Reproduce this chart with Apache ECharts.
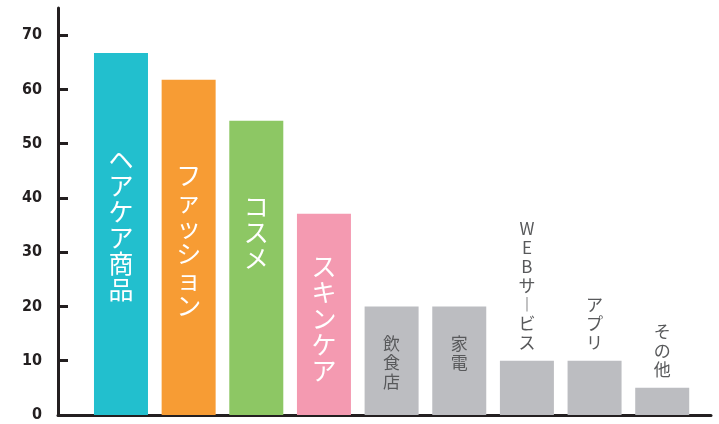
<!DOCTYPE html>
<html><head><meta charset="utf-8">
<script src="https://cdn.jsdelivr.net/npm/echarts@6/dist/echarts.min.js"></script>
<style>html,body{margin:0;padding:0;background:#fff}#c{width:719px;height:424px}</style>
</head><body><div id="c"></div>
<script>
const categories = ['ヘアケア商品','ファッション','コスメ','スキンケア','飲食店','家電','WEBサービス','アプリ','その他'];
const values = [66.7, 61.8, 54.2, 37.1, 20, 20, 10, 10, 5];
const yTicks = [0,10,20,30,40,50,60,70];

const barColors = ['#22bfce','#f79c34','#8dc764','#f49ab1','#bcbdc1','#bcbdc1','#bcbdc1','#bcbdc1','#bcbdc1'];
const labelMode = ['in','in','in','in','inG','inG','top','top','top'];
const labelShift = [-10,-7,-35,4,2,-8,0,0,0];

function vert(s){ return Array.from(s.replace(/ー/g,'︱')).join('\n'); }

const data = values.map((v,i)=>{
  const m = labelMode[i];
  const big = m==='in';
  return {
    value:[i,v],
    itemStyle:{color:barColors[i]},
    label:{
      show:true,
      formatter: vert(categories[i]),
      position: m==='top' ? 'top' : 'inside',
      distance: 9,
      offset:[0,labelShift[i]],
      color: big ? '#ffffff' : '#58595b',
      fontSize: big ? 25 : 17,
      lineHeight: big ? 26 : 19,
      fontFamily: 'Noto Sans CJK JP',
      fontWeight: 'normal'
    }
  };
});

const chart = echarts.init(document.getElementById('c'));
chart.setOption({
  animation:false,
  grid:{left:58,right:8,top:8,bottom:9,containLabel:false},
  xAxis:{
    type:'value', min:-0.931, max:8.721,
    axisLine:{show:true,onZero:false,lineStyle:{color:'#231f20',width:3}},
    axisTick:{show:false}, axisLabel:{show:false}, splitLine:{show:false}
  },
  yAxis:{
    type:'value', min:0, max:75,
    axisLine:{show:true,onZero:false,lineStyle:{color:'#231f20',width:3}},
    axisTick:{show:true,inside:true,length:10,customValues:yTicks,lineStyle:{color:'#231f20',width:3}},
    axisLabel:{customValues:yTicks,margin:16,color:'#231f20',fontSize:16,fontWeight:'bold',fontFamily:'DejaVu Sans Condensed'},
    splitLine:{show:false}
  },
  series:[{type:'bar',barWidth:54,data:data}]
});
</script></body></html>
